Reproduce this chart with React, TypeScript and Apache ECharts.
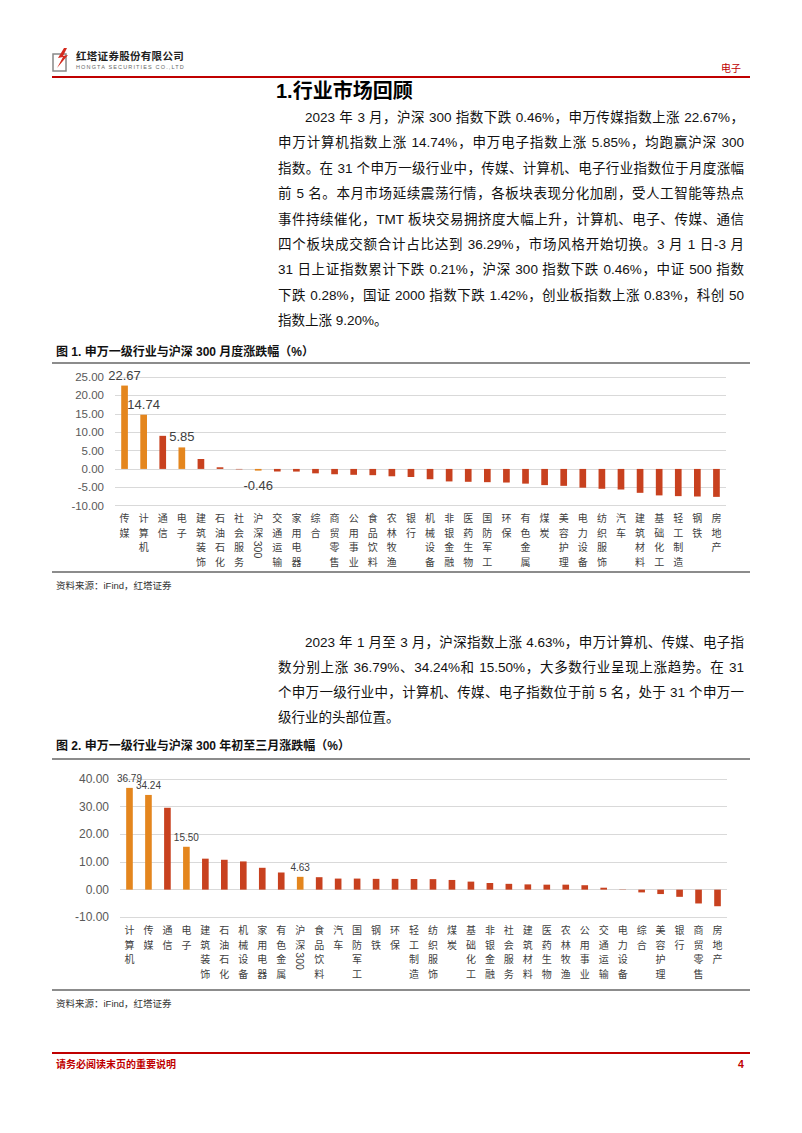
import React, { useEffect, useRef } from "react";
import * as echarts from "echarts";

// ---------- Data ----------
const cats1 = ["传媒", "计算机", "通信", "电子", "建筑装饰", "石油石化", "社会服务", "沪深300", "交通运输", "家用电器", "综合", "商贸零售", "公用事业", "食品饮料", "农林牧渔", "银行", "机械设备", "非银金融", "医药生物", "国防军工", "环保", "有色金属", "煤炭", "美容护理", "电力设备", "纺织服饰", "汽车", "建筑材料", "基础化工", "轻工制造", "钢铁", "房地产"];
const vals1 = [22.67, 14.74, 9.0, 5.85, 2.7, 0.45, -0.12, -0.46, -0.7, -0.72, -1.2, -1.45, -1.6, -1.7, -2.0, -2.2, -2.8, -3.4, -3.5, -3.6, -3.7, -4.0, -4.4, -4.6, -5.1, -5.4, -5.6, -6.5, -7.2, -7.4, -7.5, -7.6];
const hi1 = ["传媒", "计算机", "电子", "沪深300"];
const lab1 = ["传媒", "计算机", "电子", "沪深300"];
const yTicks1 = { min: -10, max: 25, interval: 5 };

const cats2 = ["计算机", "传媒", "通信", "电子", "建筑装饰", "石油石化", "机械设备", "家用电器", "有色金属", "沪深300", "食品饮料", "汽车", "国防军工", "钢铁", "环保", "轻工制造", "纺织服饰", "煤炭", "基础化工", "非银金融", "社会服务", "建筑材料", "医药生物", "农林牧渔", "公用事业", "交通运输", "电力设备", "综合", "美容护理", "银行", "商贸零售", "房地产"];
const vals2 = [36.79, 34.24, 29.6, 15.5, 11.2, 10.8, 10.2, 7.9, 6.2, 4.63, 4.5, 4.0, 4.0, 3.9, 3.9, 3.85, 3.8, 3.5, 2.9, 2.4, 2.1, 1.9, 1.8, 1.8, 1.6, 0.7, -0.1, -1.0, -1.6, -2.6, -5.0, -6.0];
const hi2 = ["计算机", "传媒", "电子", "沪深300"];
const lab2 = ["计算机", "传媒", "电子", "沪深300"];
const yTicks2 = { min: -10, max: 40, interval: 10 };

const para1 = [
  "2023 年 3 月，沪深 300 指数下跌 0.46%，申万传媒指数上涨 22.67%，",
  "申万计算机指数上涨 14.74%，申万电子指数上涨 5.85%，均跑赢沪深 300",
  "指数。在 31 个申万一级行业中，传媒、计算机、电子行业指数位于月度涨幅",
  "前 5 名。本月市场延续震荡行情，各板块表现分化加剧，受人工智能等热点",
  "事件持续催化，TMT 板块交易拥挤度大幅上升，计算机、电子、传媒、通信",
  "四个板块成交额合计占比达到 36.29%，市场风格开始切换。3 月 1 日-3 月",
  "31 日上证指数累计下跌 0.21%，沪深 300 指数下跌 0.46%，中证 500 指数",
  "下跌 0.28%，国证 2000 指数下跌 1.42%，创业板指数上涨 0.83%，科创 50",
  "指数上涨 9.20%。",
];
const para2 = [
  "2023 年 1 月至 3 月，沪深指数上涨 4.63%，申万计算机、传媒、电子指",
  "数分别上涨 36.79%、34.24%和 15.50%，大多数行业呈现上涨趋势。在 31",
  "个申万一级行业中，计算机、传媒、电子指数位于前 5 名，处于 31 个申万一",
  "级行业的头部位置。",
];

const ORANGE = "#E4861E";
const RED = "#C8411F";
const FONT = "'Liberation Sans', 'Noto Sans CJK SC', sans-serif";
const CJK = "'Noto Sans CJK SC', sans-serif";

type ChartProps = {
  cats: string[];
  vals: number[];
  hi: string[];
  lab: string[];
  ticks: { min: number; max: number; interval: number };
  left: number;
  top: number;
  width: number;
  height: number;
  grid: { left: number; right: number; top: number; bottom: number };
  valFont: number;
  axisFont: number;
  negLabelDist: number;
};

function BarChart(p: ChartProps) {
  const ref = useRef<HTMLDivElement>(null);
  useEffect(() => {
    if (!ref.current) return;
    const chart = echarts.init(ref.current, undefined, { renderer: "svg" });
    const lineH = 14.5;
    const catFont = 10;
    const margin = 5;
    const data = p.vals.map((v, i) => {
      const c = p.cats[i];
      const show = p.lab.includes(c);
      return {
        value: v,
        itemStyle: { color: p.hi.includes(c) ? ORANGE : RED },
        label: show
          ? {
              show: true,
              position: v < 0 ? "bottom" : "top",
              distance: v < 0 ? p.negLabelDist : 4,
              formatter: (d: any) => Number(d.value).toFixed(2),
              fontSize: p.valFont,
              color: "#404040",
              fontFamily: FONT,
            }
          : { show: false },
      };
    });
    chart.setOption({
      animation: false,
      grid: { ...p.grid, containLabel: false },
      xAxis: {
        type: "category",
        data: p.cats,
        axisLine: { show: false, onZero: false },
        axisTick: { show: false },
        axisLabel: {
          interval: 0,
          margin,
          fontSize: catFont,
          lineHeight: lineH,
          color: "#404040",
          fontFamily: CJK,
          verticalAlign: "top",
          formatter: (v: string) => (v === "沪深300" ? "沪\n深" : v.split("").join("\n")),
        },
      },
      yAxis: {
        type: "value",
        min: p.ticks.min,
        max: p.ticks.max,
        interval: p.ticks.interval,
        axisLine: { show: false },
        axisTick: { show: false },
        splitLine: { lineStyle: { color: "#D9D9D9", width: 1 } },
        axisLabel: {
          fontSize: p.axisFont,
          color: "#595959",
          margin: 11,
          fontFamily: FONT,
          formatter: (v: number) => v.toFixed(2),
        },
      },
      series: [
        {
          type: "bar",
          data,
          barWidth: "35%",
        },
      ],
    });
    const x = chart.convertToPixel({ xAxisIndex: 0 }, "沪深300") as number;
    const yb = chart.convertToPixel({ yAxisIndex: 0 }, p.ticks.min) as number;
    chart.setOption({
      graphic: [
        {
          type: "text",
          x: x,
          y: yb + margin + 2 * lineH + 1,
          rotation: -Math.PI / 2,
          style: {
            text: "300",
            fontSize: 10.5,
            fill: "#404040",
            fontFamily: FONT,
            align: "left",
            verticalAlign: "middle",
          },
        },
      ],
    });
    return () => chart.dispose();
  }, []);
  return (
    <div
      ref={ref}
      style={{ position: "absolute", left: p.left, top: p.top, width: p.width, height: p.height }}
    />
  );
}

function Line({ text, top, left, width, justify }: { text: string; top: number; left: number; width: number; justify: boolean }) {
  return (
    <div
      style={{
        position: "absolute",
        top,
        left,
        width,
        height: 20,
        lineHeight: "20px",
        fontSize: 13.5,
        color: "#111",
        fontFamily: FONT,
        textAlign: justify ? "justify" : "left",
        textAlignLast: justify ? "justify" : "auto",
      } as any}
    >
      {text}
    </div>
  );
}

export default function App() {
  const textLeft = 278;
  const textRight = 744;
  const indent = 27;
  const lh1 = 25.4;
  const p1Start = 118;
  const p2Start = 643;
  const lh2 = 25;
  return (
    <div
      style={{
        position: "absolute",
        left: 0,
        top: 0,
        width: 802,
        height: 1133,
        background: "#fff",
        overflow: "hidden",
        fontFamily: FONT,
      }}
    >
      {/* Header */}
      <svg style={{ position: "absolute", left: 50, top: 46 }} width={26} height={28}>
        <rect x={3} y={8} width={13} height={17} fill="none" stroke="#888" strokeWidth={1.5} />
        <path d="M14 2 L8 12 L13 11 L7 22 L18 9 L13 10 L17 2 Z" fill="#D42A1E" />
      </svg>
      <div style={{ position: "absolute", left: 76, top: 48, fontSize: 10.5, lineHeight: "15px", fontWeight: 700, fontFamily: CJK, color: "#222", letterSpacing: 0.3 }}>
        红塔证券股份有限公司
      </div>
      <div style={{ position: "absolute", left: 76, top: 64, fontSize: 5.5, lineHeight: "7px", fontFamily: FONT, color: "#666", letterSpacing: 1.15 }}>
        HONGTA SECURITIES CO.,LTD
      </div>
      <div style={{ position: "absolute", left: 721, top: 61, fontSize: 10, lineHeight: "13px", fontFamily: CJK, color: "#C00000" }}>电子</div>
      <div style={{ position: "absolute", left: 52, top: 76, width: 698, height: 1.5, background: "#C00000" }} />

      {/* Section title */}
      <div style={{ position: "absolute", left: 276, top: 78, fontSize: 20, lineHeight: "26px", fontWeight: 700, fontFamily: FONT, color: "#000" }}>
        1.行业市场回顾
      </div>

      {para1.map((t, i) => (
        <Line
          key={"p1" + i}
          text={t}
          top={p1Start + i * lh1 - 10}
          left={i === 0 ? textLeft + indent : textLeft}
          width={i === 0 ? textRight - textLeft - indent : textRight - textLeft}
          justify={i !== para1.length - 1}
        />
      ))}

      {/* Figure 1 */}
      <div style={{ position: "absolute", left: 56, top: 344, fontSize: 12, lineHeight: "16px", fontWeight: 700, fontFamily: FONT, color: "#111" }}>
        图 1. 申万一级行业与沪深 300 月度涨跌幅（%）
      </div>
      <div style={{ position: "absolute", left: 52, top: 362, width: 698, height: 2, background: "#8C8C8C" }} />
      <BarChart
        cats={cats1}
        vals={vals1}
        hi={hi1}
        lab={lab1}
        ticks={yTicks1}
        left={52}
        top={364}
        width={698}
        height={207}
        grid={{ left: 63, right: 24, top: 13, bottom: 65.3 }}
        valFont={13}
        axisFont={11.5}
        negLabelDist={8}
      />
      <div style={{ position: "absolute", left: 52, top: 571, width: 698, height: 2, background: "#8C8C8C" }} />
      <div style={{ position: "absolute", left: 56, top: 579, fontSize: 9.5, lineHeight: "13px", fontFamily: FONT, color: "#333" }}>
        资料来源：iFind，红塔证券
      </div>

      {para2.map((t, i) => (
        <Line
          key={"p2" + i}
          text={t}
          top={p2Start + i * lh2 - 10}
          left={i === 0 ? textLeft + indent : textLeft}
          width={i === 0 ? textRight - textLeft - indent : textRight - textLeft}
          justify={i !== para2.length - 1}
        />
      ))}

      {/* Figure 2 */}
      <div style={{ position: "absolute", left: 56, top: 738, fontSize: 12, lineHeight: "16px", fontWeight: 700, fontFamily: FONT, color: "#111" }}>
        图 2. 申万一级行业与沪深 300 年初至三月涨跌幅（%）
      </div>
      <div style={{ position: "absolute", left: 52, top: 758, width: 698, height: 2, background: "#8C8C8C" }} />
      <BarChart
        cats={cats2}
        vals={vals2}
        hi={hi2}
        lab={lab2}
        ticks={yTicks2}
        left={52}
        top={760}
        width={698}
        height={229}
        grid={{ left: 68, right: 23, top: 19, bottom: 71.7 }}
        valFont={10}
        axisFont={12}
        negLabelDist={6}
      />
      <div style={{ position: "absolute", left: 52, top: 989, width: 698, height: 2, background: "#8C8C8C" }} />
      <div style={{ position: "absolute", left: 56, top: 997, fontSize: 9.5, lineHeight: "13px", fontFamily: FONT, color: "#333" }}>
        资料来源：iFind，红塔证券
      </div>

      {/* Footer */}
      <div style={{ position: "absolute", left: 52, top: 1052, width: 698, height: 2, background: "#C00000" }} />
      <div style={{ position: "absolute", left: 56, top: 1057, fontSize: 10, lineHeight: "14px", fontWeight: 700, fontFamily: CJK, color: "#C00000" }}>
        请务必阅读末页的重要说明
      </div>
      <div style={{ position: "absolute", left: 738, top: 1057, fontSize: 10.5, lineHeight: "14px", fontWeight: 700, fontFamily: FONT, color: "#C00000" }}>
        4
      </div>
    </div>
  );
}
